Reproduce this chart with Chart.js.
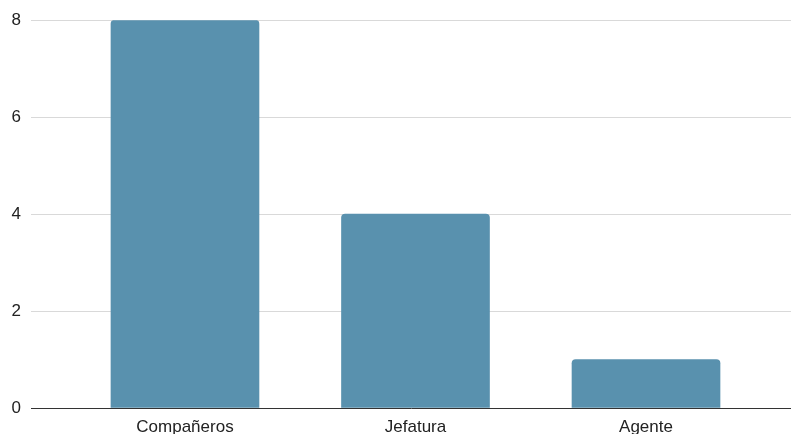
<!DOCTYPE html>
<html>
<head>
<meta charset="utf-8">
<script src="https://cdn.jsdelivr.net/npm/chart.js@4/dist/chart.umd.min.js"></script>
<style>
  html, body { margin: 0; padding: 0; background: #fff; }
  #wrap { width: 791px; height: 434px; }
</style>
</head>
<body>
<div id="wrap"><canvas id="chart" width="791" height="434"></canvas></div>
<script>
// Categories and counts
const categories = ['Compañeros', 'Jefatura', 'Agente'];
const counts = [8, 4, 1];
const yTicks = [0, 2, 4, 6, 8];

const barColor = '#5991ae';
const fontSpec = { family: "'Liberation Sans', Arial, sans-serif", size: 17 };

// Bars sit on a linear x scale so the side margins can be wider than a category slot
const points = counts.map((v, i) => ({ x: i, y: v }));

new Chart(document.getElementById('chart').getContext('2d'), {
  type: 'bar',
  data: {
    datasets: [{
      data: points,
      backgroundColor: barColor,
      borderWidth: 0,
      borderRadius: 4,
      borderSkipped: 'start',
      barThickness: 148
    }]
  },
  options: {
    responsive: false,
    animation: false,
    layout: { padding: { top: 20, right: 0, left: 0, bottom: 0 } },
    plugins: {
      legend: { display: false },
      tooltip: { enabled: false }
    },
    scales: {
      x: {
        type: 'linear',
        offset: false,
        bounds: 'data',
        min: -0.668,
        max: 2.629,
        afterBuildTicks: scale => {
          scale.ticks = categories.map((c, i) => ({ value: i }));
        },
        afterFit: scale => { scale.height = 26; },
        grid: { display: false, drawTicks: false },
        border: { display: true, color: '#333333', width: 1 },
        ticks: {
          padding: 9,
          color: '#222222',
          font: fontSpec,
          autoSkip: false,
          maxRotation: 0,
          callback: v => categories[v] ?? ''
        }
      },
      y: {
        min: 0,
        max: 8,
        afterBuildTicks: scale => {
          scale.ticks = yTicks.map(v => ({ value: v }));
        },
        afterFit: scale => { scale.width = 31; },
        grid: { color: '#d9d9d9', lineWidth: 1, drawTicks: false },
        border: { display: false },
        ticks: {
          padding: 10,
          color: '#222222',
          font: fontSpec
        }
      }
    }
  }
});
</script>
</body>
</html>
